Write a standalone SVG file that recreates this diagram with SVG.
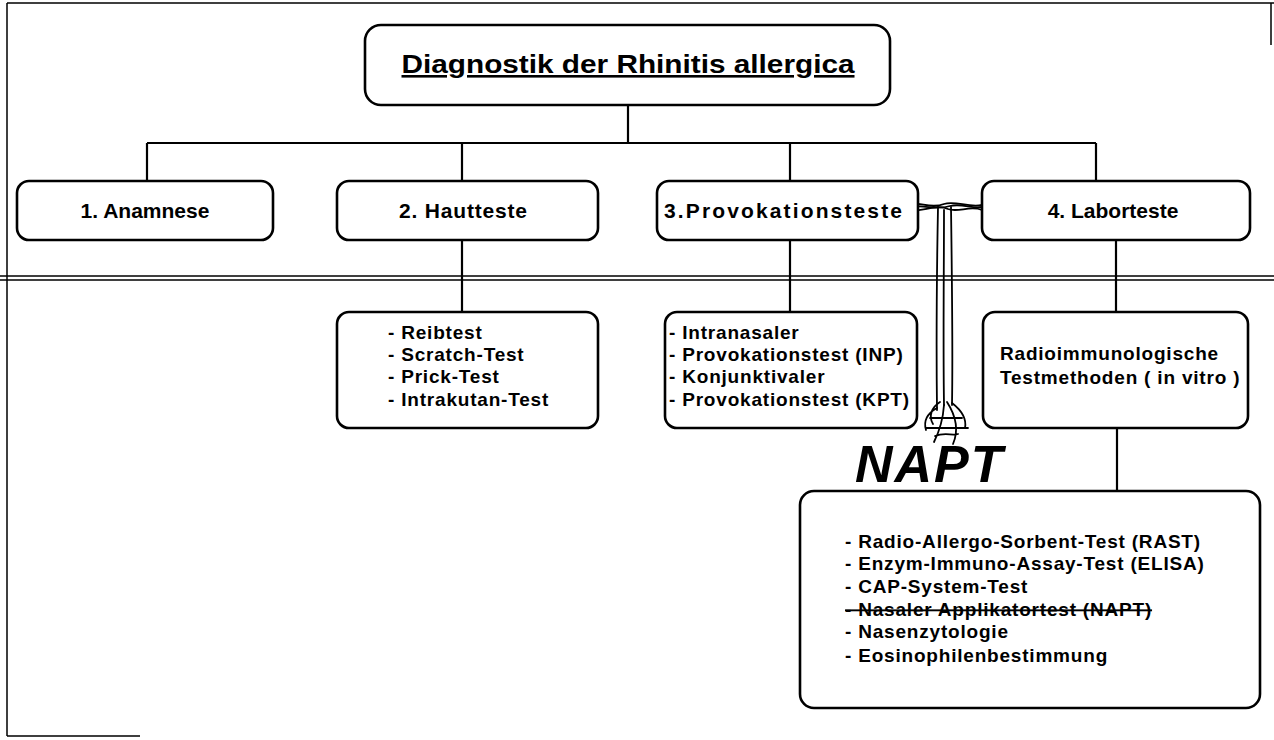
<svg xmlns="http://www.w3.org/2000/svg" width="1274" height="740" viewBox="0 0 1274 740">
<style>
.box{fill:#fff;stroke:#000;stroke-width:2.6}
.ln{fill:none;stroke:#000;stroke-width:2.2}
.frame{fill:none;stroke:#000;stroke-width:1.5}
.lbl{font-family:"Liberation Sans",Arial,sans-serif;font-weight:bold;font-size:21px;fill:#000}
.itm{font-family:"Liberation Sans",Arial,sans-serif;font-weight:bold;font-size:19px;fill:#000;letter-spacing:0.8px}
.ttl{font-family:"Liberation Sans",Arial,sans-serif;font-weight:bold;font-size:26px;fill:#000;text-decoration:underline}
.hand{font-family:"Liberation Sans",Arial,sans-serif;font-weight:bold;font-style:italic;font-size:52px;fill:#000;letter-spacing:2px}
.scr{fill:none;stroke:#000;stroke-width:1.8;stroke-linecap:round}
</style>
<rect width="1274" height="740" fill="#fff"/>
<g id="frame">
<path class="frame" d="M7,3 H1274 M7,3 V736 M7,736 H140 M1271,3 V45"/>
<path class="frame" d="M0,276 H1274 M0,280 H1274"/>
</g>
<g id="connectors">
<path class="ln" d="M628,105 V143 M147,143 H1096 M147,143 V181 M462,143 V181 M790,143 V181 M1096,143 V181"/>
<path class="ln" d="M462,240 V312 M790,240 V312 M1116,240 V312 M1117,428 V491"/>
<g id="scribble">
<path class="scr" d="M906,205 C918,200 930,210 944,204 C955,200 968,208 982,205"/>
<path class="scr" d="M906,210 C920,214 936,203 948,209 C958,213 970,205 982,210"/>
<path class="scr" d="M912,207 C925,204 935,211 950,206 C962,203 972,209 982,207" stroke-width="2.5"/>
<path class="scr" d="M938,207 C937,260 936,330 937,410" stroke-width="2.5"/>
<path class="scr" d="M951,207 C952,280 953,350 952,405" stroke-width="2.5"/>
<path class="scr" d="M944,210 C944,270 943,340 944,405" stroke-width="4"/>
<path class="scr" d="M937,408 C928,413 923,420 926,430 M944,405 C943,420 939,432 934,442 M952,403 C961,410 967,418 965,428 M947,402 C956,416 959,430 953,444 M940,402 C932,407 928,416 933,424 M930,418 H962 M926,428 H968 M935,436 C945,432 952,436 958,434"/>
</g>
</g>
<g id="title">
<rect class="box" x="365" y="25" width="525" height="80" rx="16"/>
<text class="ttl" x="628" y="73" text-anchor="middle" textLength="453" lengthAdjust="spacingAndGlyphs">Diagnostik der Rhinitis allergica</text>
</g>
<g id="anamnese">
<rect class="box" x="17" y="181" width="256" height="59" rx="12"/>
<text class="lbl" x="145" y="218" text-anchor="middle">1. Anamnese</text>
</g>
<g id="hautteste">
<rect class="box" x="337" y="181" width="261" height="59" rx="12"/>
<text class="lbl" x="463" y="218" text-anchor="middle" textLength="128">2. Hautteste</text>
</g>
<g id="provokation">
<rect class="box" x="657" y="181" width="261" height="59" rx="12"/>
<text class="lbl" x="664" y="218" textLength="238">3.Provokationsteste</text>
</g>
<g id="laborteste">
<rect class="box" x="982" y="181" width="268" height="59" rx="12"/>
<text class="lbl" x="1113" y="218" text-anchor="middle">4. Laborteste</text>
</g>
<g id="hauttests">
<rect class="box" x="337" y="312" width="261" height="116" rx="12"/>
<text class="itm" x="388" y="339">- Reibtest</text>
<text class="itm" x="388" y="361">- Scratch-Test</text>
<text class="itm" x="388" y="383">- Prick-Test</text>
<text class="itm" x="388" y="406">- Intrakutan-Test</text>
</g>
<g id="provtests">
<rect class="box" x="665" y="312" width="252" height="116" rx="12"/>
<text class="itm" x="669" y="339">- Intranasaler</text>
<text class="itm" x="669" y="361">- Provokationstest (INP)</text>
<text class="itm" x="669" y="383">- Konjunktivaler</text>
<text class="itm" x="669" y="406">- Provokationstest (KPT)</text>
</g>
<g id="radio">
<rect class="box" x="983" y="312" width="265" height="116" rx="12"/>
<text class="itm" x="1000" y="360">Radioimmunologische</text>
<text class="itm" x="1000" y="384">Testmethoden ( in vitro )</text>
</g>
<g id="napt">
<text class="hand" x="855" y="482">NAPT</text>
</g>
<g id="labtests">
<rect class="box" x="800" y="491" width="460" height="217" rx="14"/>
<text class="itm" x="845" y="548">- Radio-Allergo-Sorbent-Test (RAST)</text>
<text class="itm" x="845" y="570">- Enzym-Immuno-Assay-Test (ELISA)</text>
<text class="itm" x="845" y="593">- CAP-System-Test</text>
<text class="itm" x="845" y="616" style="text-decoration:line-through">- Nasaler Applikatortest (NAPT)</text>
<text class="itm" x="845" y="638">- Nasenzytologie</text>
<text class="itm" x="845" y="662">- Eosinophilenbestimmung</text>
</g>
</svg>
